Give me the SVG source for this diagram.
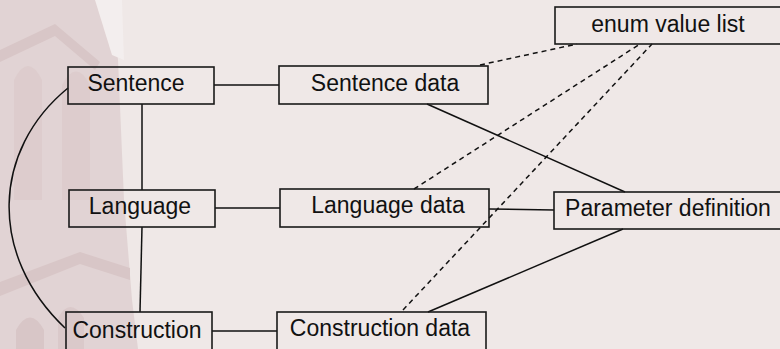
<svg xmlns="http://www.w3.org/2000/svg" width="780" height="349" viewBox="0 0 780 349">
<style>
.box{fill:none;stroke:#1a1a1a;stroke-width:1.6}
.lbl{font-family:"Liberation Sans",Arial,sans-serif;font-size:23px;fill:#111;text-anchor:middle}
.ln{fill:none;stroke:#111;stroke-width:1.5}
.dash{fill:none;stroke:#111;stroke-width:1.5;stroke-dasharray:5 4}
.tw{fill:#dccbcc}
.tw2{fill:#cfb8ba}
</style>
<rect width="780" height="349" fill="#efe8e7"/>
<g id="background" opacity="0.7">
<polygon class="tw" points="0,0 112,0 118,60 124,200 132,300 138,349 0,349"/>
<polygon points="95,0 122,0 124,60 112,55" fill="#f6f1f1"/>
<polygon class="tw2" points="0,50 55,24 100,62 95,70 55,36 0,62"/>
<path class="tw2" d="M14,200 V80 Q28,52 42,80 V200 Z" opacity="0.5"/>
<path class="tw2" d="M62,200 V85 Q76,58 90,85 V200 Z" opacity="0.5"/>
<polygon class="tw2" points="0,282 80,252 130,268 130,280 80,264 0,296"/>
<path class="tw2" d="M16,349 V330 Q30,305 44,330 V349 Z"/>
<path class="tw2" d="M58,349 V318 Q70,296 84,318 V349 Z" opacity="0.8"/>
</g>
<g id="connectors">
<path class="ln" d="M68,88 C-8,150 -12,255 65,328"/>
<line class="ln" x1="142" y1="104" x2="142" y2="190"/>
<line class="ln" x1="142" y1="227" x2="140" y2="312"/>
<line class="ln" x1="214" y1="85" x2="279" y2="85"/>
<line class="ln" x1="215" y1="208" x2="280" y2="208"/>
<line class="ln" x1="212" y1="331" x2="277" y2="331"/>
<line class="dash" x1="480" y1="65" x2="577" y2="44"/>
<line class="dash" x1="414" y1="189" x2="640" y2="44"/>
<line class="dash" x1="403" y1="310" x2="652" y2="44"/>
<line class="ln" x1="427" y1="104" x2="625" y2="192"/>
<line class="ln" x1="489" y1="209" x2="554" y2="210"/>
<line class="ln" x1="428" y1="312" x2="623" y2="229"/>
</g>
<g id="sentence"><rect class="box" x="68" y="67" width="146" height="37"/><text class="lbl" x="136" y="91">Sentence</text></g>
<g id="language"><rect class="box" x="69" y="190" width="146" height="37"/><text class="lbl" x="140" y="214">Language</text></g>
<g id="construction"><rect class="box" x="66" y="312" width="146" height="40"/><text class="lbl" x="137" y="338">Construction</text></g>
<g id="sentence-data"><rect class="box" x="279" y="66" width="209" height="38"/><text class="lbl" x="385" y="91">Sentence data</text></g>
<g id="language-data"><rect class="box" x="280" y="189" width="209" height="38"/><text class="lbl" x="388" y="213">Language data</text></g>
<g id="construction-data"><rect class="box" x="277" y="312" width="209" height="40"/><text class="lbl" x="380" y="336">Construction data</text></g>
<g id="enum-value-list"><rect class="box" x="555" y="7" width="228" height="37"/><text class="lbl" x="668" y="32">enum value list</text></g>
<g id="parameter-definition"><rect class="box" x="554" y="192" width="229" height="37"/><text class="lbl" x="668" y="216">Parameter definition</text></g>
</svg>
